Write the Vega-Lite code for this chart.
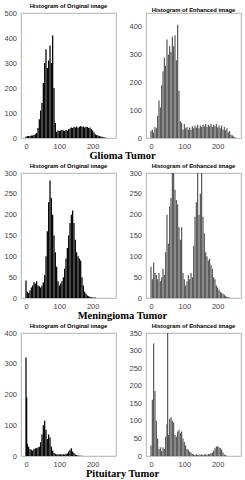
{
  "$schema": "https://vega.github.io/schema/vega-lite/v6.json",
  "background": "white",
  "padding": {"left": 3, "top": 2, "right": 0, "bottom": 0},
  "spacing": 0,
  "datasets": {
    "g1": [{"x":0,"y":5},{"x":4,"y":8},{"x":8,"y":8},{"x":12,"y":8},{"x":16,"y":10},{"x":20,"y":10},{"x":24,"y":12},{"x":28,"y":15},{"x":32,"y":20},{"x":36,"y":40},{"x":40,"y":75},{"x":44,"y":110},{"x":48,"y":140},{"x":52,"y":220},{"x":56,"y":300},{"x":60,"y":355},{"x":64,"y":280},{"x":68,"y":310},{"x":72,"y":370},{"x":76,"y":300},{"x":80,"y":410},{"x":84,"y":200},{"x":88,"y":60},{"x":92,"y":25},{"x":96,"y":30},{"x":100,"y":28},{"x":104,"y":30},{"x":108,"y":32},{"x":112,"y":30},{"x":116,"y":28},{"x":120,"y":32},{"x":124,"y":30},{"x":128,"y":35},{"x":132,"y":38},{"x":136,"y":42},{"x":140,"y":40},{"x":144,"y":45},{"x":148,"y":42},{"x":152,"y":46},{"x":156,"y":40},{"x":160,"y":45},{"x":164,"y":48},{"x":168,"y":44},{"x":172,"y":46},{"x":176,"y":42},{"x":180,"y":45},{"x":184,"y":44},{"x":188,"y":40},{"x":192,"y":42},{"x":196,"y":35},{"x":200,"y":30},{"x":204,"y":22},{"x":208,"y":15},{"x":212,"y":12},{"x":216,"y":10},{"x":220,"y":8},{"x":224,"y":6},{"x":228,"y":5},{"x":232,"y":3},{"x":236,"y":2},{"x":240,"y":1}],
    "g2": [{"x":0,"y":25},{"x":4,"y":30},{"x":8,"y":20},{"x":12,"y":40},{"x":16,"y":35},{"x":20,"y":80},{"x":24,"y":135},{"x":28,"y":110},{"x":32,"y":190},{"x":36,"y":240},{"x":40,"y":290},{"x":44,"y":260},{"x":48,"y":355},{"x":52,"y":300},{"x":56,"y":330},{"x":60,"y":310},{"x":64,"y":365},{"x":68,"y":330},{"x":72,"y":370},{"x":76,"y":280},{"x":80,"y":408},{"x":84,"y":170},{"x":88,"y":60},{"x":92,"y":55},{"x":96,"y":30},{"x":100,"y":50},{"x":104,"y":35},{"x":108,"y":40},{"x":112,"y":30},{"x":116,"y":38},{"x":120,"y":30},{"x":124,"y":42},{"x":128,"y":35},{"x":132,"y":45},{"x":136,"y":38},{"x":140,"y":48},{"x":144,"y":35},{"x":148,"y":45},{"x":152,"y":40},{"x":156,"y":48},{"x":160,"y":42},{"x":164,"y":50},{"x":168,"y":40},{"x":172,"y":48},{"x":176,"y":42},{"x":180,"y":50},{"x":184,"y":40},{"x":188,"y":48},{"x":192,"y":42},{"x":196,"y":50},{"x":200,"y":38},{"x":204,"y":45},{"x":208,"y":35},{"x":212,"y":45},{"x":216,"y":30},{"x":220,"y":40},{"x":224,"y":28},{"x":228,"y":35},{"x":232,"y":20},{"x":236,"y":25},{"x":240,"y":12},{"x":244,"y":10},{"x":248,"y":5},{"x":252,"y":3}],
    "m1": [{"x":0,"y":42},{"x":4,"y":15},{"x":8,"y":12},{"x":12,"y":18},{"x":16,"y":25},{"x":20,"y":30},{"x":24,"y":38},{"x":28,"y":35},{"x":32,"y":40},{"x":36,"y":30},{"x":40,"y":28},{"x":44,"y":25},{"x":48,"y":30},{"x":52,"y":38},{"x":56,"y":55},{"x":60,"y":100},{"x":64,"y":160},{"x":68,"y":230},{"x":72,"y":282},{"x":76,"y":240},{"x":80,"y":200},{"x":84,"y":150},{"x":88,"y":110},{"x":92,"y":75},{"x":96,"y":40},{"x":100,"y":30},{"x":104,"y":35},{"x":108,"y":40},{"x":112,"y":50},{"x":116,"y":70},{"x":120,"y":95},{"x":124,"y":120},{"x":128,"y":150},{"x":132,"y":180},{"x":136,"y":200},{"x":140,"y":210},{"x":144,"y":180},{"x":148,"y":140},{"x":152,"y":110},{"x":156,"y":100},{"x":160,"y":95},{"x":164,"y":90},{"x":168,"y":50},{"x":172,"y":30},{"x":176,"y":15},{"x":180,"y":10},{"x":184,"y":6},{"x":188,"y":4},{"x":192,"y":3},{"x":196,"y":2},{"x":200,"y":1},{"x":204,"y":1},{"x":208,"y":1}],
    "m2": [{"x":0,"y":75},{"x":4,"y":45},{"x":8,"y":85},{"x":12,"y":60},{"x":16,"y":55},{"x":20,"y":45},{"x":24,"y":60},{"x":28,"y":40},{"x":32,"y":50},{"x":36,"y":70},{"x":40,"y":55},{"x":44,"y":110},{"x":48,"y":200},{"x":52,"y":130},{"x":56,"y":220},{"x":60,"y":240},{"x":64,"y":320},{"x":68,"y":320},{"x":72,"y":260},{"x":76,"y":235},{"x":80,"y":225},{"x":84,"y":170},{"x":88,"y":140},{"x":92,"y":170},{"x":96,"y":60},{"x":100,"y":45},{"x":104,"y":30},{"x":108,"y":40},{"x":112,"y":55},{"x":116,"y":45},{"x":120,"y":60},{"x":124,"y":50},{"x":128,"y":125},{"x":132,"y":195},{"x":136,"y":230},{"x":140,"y":320},{"x":144,"y":200},{"x":148,"y":250},{"x":152,"y":320},{"x":156,"y":195},{"x":160,"y":155},{"x":164,"y":110},{"x":168,"y":100},{"x":172,"y":90},{"x":176,"y":95},{"x":180,"y":80},{"x":184,"y":70},{"x":188,"y":50},{"x":192,"y":45},{"x":196,"y":30},{"x":200,"y":25},{"x":204,"y":20},{"x":208,"y":15},{"x":212,"y":12},{"x":216,"y":10},{"x":220,"y":8},{"x":224,"y":5},{"x":228,"y":3},{"x":232,"y":2},{"x":236,"y":1}],
    "p1": [{"x":0,"y":320},{"x":2,"y":190},{"x":4,"y":40},{"x":8,"y":30},{"x":12,"y":22},{"x":16,"y":20},{"x":20,"y":18},{"x":24,"y":22},{"x":28,"y":25},{"x":32,"y":25},{"x":36,"y":28},{"x":40,"y":30},{"x":44,"y":45},{"x":48,"y":70},{"x":52,"y":100},{"x":56,"y":115},{"x":60,"y":85},{"x":64,"y":55},{"x":68,"y":70},{"x":72,"y":60},{"x":76,"y":30},{"x":80,"y":18},{"x":84,"y":10},{"x":88,"y":7},{"x":92,"y":5},{"x":96,"y":6},{"x":100,"y":5},{"x":104,"y":6},{"x":108,"y":5},{"x":112,"y":6},{"x":116,"y":5},{"x":120,"y":7},{"x":124,"y":8},{"x":128,"y":15},{"x":132,"y":20},{"x":136,"y":25},{"x":140,"y":15},{"x":144,"y":10},{"x":148,"y":5},{"x":152,"y":3},{"x":156,"y":2},{"x":160,"y":1},{"x":164,"y":1},{"x":168,"y":1}],
    "p2": [{"x":0,"y":30},{"x":4,"y":160},{"x":8,"y":320},{"x":12,"y":185},{"x":16,"y":100},{"x":20,"y":50},{"x":24,"y":20},{"x":28,"y":25},{"x":32,"y":15},{"x":36,"y":25},{"x":40,"y":20},{"x":44,"y":55},{"x":48,"y":90},{"x":50,"y":360},{"x":52,"y":60},{"x":56,"y":105},{"x":60,"y":110},{"x":64,"y":100},{"x":68,"y":95},{"x":72,"y":60},{"x":76,"y":55},{"x":80,"y":70},{"x":84,"y":75},{"x":88,"y":65},{"x":92,"y":70},{"x":96,"y":50},{"x":100,"y":40},{"x":104,"y":30},{"x":108,"y":20},{"x":112,"y":18},{"x":116,"y":12},{"x":120,"y":10},{"x":124,"y":6},{"x":128,"y":4},{"x":132,"y":3},{"x":136,"y":5},{"x":140,"y":3},{"x":144,"y":4},{"x":148,"y":3},{"x":152,"y":5},{"x":156,"y":3},{"x":160,"y":4},{"x":164,"y":5},{"x":168,"y":3},{"x":172,"y":6},{"x":176,"y":5},{"x":180,"y":8},{"x":184,"y":10},{"x":188,"y":15},{"x":192,"y":22},{"x":196,"y":27},{"x":200,"y":28},{"x":204,"y":25},{"x":208,"y":22},{"x":212,"y":18},{"x":216,"y":10},{"x":220,"y":4},{"x":224,"y":2},{"x":228,"y":1}]
  },
  "vconcat": [
    {
      "title": {"text": "Glioma Tumor", "orient": "bottom", "anchor": "middle", "font": "Liberation Serif", "fontSize": 10.5, "fontWeight": "bold", "color": "#000", "offset": 1},
      "spacing": 11,
      "hconcat": [
        {"width": 95, "height": 125, "data": {"name": "g1"},
         "title": {"text": "Histogram of Original image", "font": "Liberation Sans", "fontSize": 5.8, "fontWeight": "bold", "color": "#000", "offset": 0.5},
         "mark": {"type": "bar", "orient": "vertical", "size": 1.25, "color": "#000", "clip": true},
         "encoding": {
           "x": {"field": "x", "type": "quantitative", "title": null, "scale": {"domain": [0, 255], "nice": false}, "axis": {"values": [0, 100, 200]}},
           "y": {"field": "y", "type": "quantitative", "title": null, "stack": null, "scale": {"domain": [0, 500], "nice": false}, "axis": {"values": [0, 100, 200, 300, 400, 500]}}}},
        {"width": 95, "height": 125, "data": {"name": "g2"},
         "title": {"text": "Histogram of Enhanced image", "font": "Liberation Sans", "fontSize": 5.8, "fontWeight": "bold", "color": "#000", "offset": 0.5},
         "mark": {"type": "bar", "orient": "vertical", "size": 1.1, "color": "#4a4a4a", "clip": true},
         "encoding": {
           "x": {"field": "x", "type": "quantitative", "title": null, "scale": {"domain": [0, 255], "nice": false}, "axis": {"values": [0, 100, 200]}},
           "y": {"field": "y", "type": "quantitative", "title": null, "stack": null, "scale": {"domain": [0, 450], "nice": false}, "axis": {"values": [0, 100, 200, 300, 400]}}}}
      ]
    },
    {
      "title": {"text": "Meningioma Tumor", "orient": "bottom", "anchor": "middle", "font": "Liberation Serif", "fontSize": 10.5, "fontWeight": "bold", "color": "#000", "offset": 1},
      "spacing": 11,
      "hconcat": [
        {"width": 95, "height": 125, "data": {"name": "m1"},
         "title": {"text": "Histogram of Original image", "font": "Liberation Sans", "fontSize": 5.8, "fontWeight": "bold", "color": "#000", "offset": 0.5},
         "mark": {"type": "bar", "orient": "vertical", "size": 1.25, "color": "#000", "clip": true},
         "encoding": {
           "x": {"field": "x", "type": "quantitative", "title": null, "scale": {"domain": [0, 255], "nice": false}, "axis": {"values": [0, 100, 200]}},
           "y": {"field": "y", "type": "quantitative", "title": null, "stack": null, "scale": {"domain": [0, 300], "nice": false}, "axis": {"values": [0, 50, 100, 150, 200, 250, 300]}}}},
        {"width": 95, "height": 125, "data": {"name": "m2"},
         "title": {"text": "Histogram of Enhanced image", "font": "Liberation Sans", "fontSize": 5.8, "fontWeight": "bold", "color": "#000", "offset": 0.5},
         "mark": {"type": "bar", "orient": "vertical", "size": 1.1, "color": "#4a4a4a", "clip": true},
         "encoding": {
           "x": {"field": "x", "type": "quantitative", "title": null, "scale": {"domain": [0, 255], "nice": false}, "axis": {"values": [0, 100, 200]}},
           "y": {"field": "y", "type": "quantitative", "title": null, "stack": null, "scale": {"domain": [0, 300], "nice": false}, "axis": {"values": [0, 50, 100, 150, 200, 250, 300]}}}}
      ]
    },
    {
      "title": {"text": "Pituitary Tumor", "orient": "bottom", "anchor": "middle", "font": "Liberation Serif", "fontSize": 10.5, "fontWeight": "bold", "color": "#000", "offset": 1},
      "spacing": 11,
      "hconcat": [
        {"width": 95, "height": 123, "data": {"name": "p1"},
         "title": {"text": "Histogram of Original image", "font": "Liberation Sans", "fontSize": 5.8, "fontWeight": "bold", "color": "#000", "offset": 0.5},
         "mark": {"type": "bar", "orient": "vertical", "size": 1.25, "color": "#000", "clip": true},
         "encoding": {
           "x": {"field": "x", "type": "quantitative", "title": null, "scale": {"domain": [0, 255], "nice": false}, "axis": {"values": [0, 100, 200]}},
           "y": {"field": "y", "type": "quantitative", "title": null, "stack": null, "scale": {"domain": [0, 400], "nice": false}, "axis": {"values": [0, 100, 200, 300, 400]}}}},
        {"width": 95, "height": 123, "data": {"name": "p2"},
         "title": {"text": "Histogram of Enhanced image", "font": "Liberation Sans", "fontSize": 5.8, "fontWeight": "bold", "color": "#000", "offset": 0.5},
         "mark": {"type": "bar", "orient": "vertical", "size": 1.1, "color": "#4a4a4a", "clip": true},
         "encoding": {
           "x": {"field": "x", "type": "quantitative", "title": null, "scale": {"domain": [0, 255], "nice": false}, "axis": {"values": [0, 100, 200]}},
           "y": {"field": "y", "type": "quantitative", "title": null, "stack": null, "scale": {"domain": [0, 350], "nice": false}, "axis": {"values": [0, 50, 100, 150, 200, 250, 300, 350]}}}}
      ]
    }
  ],
  "config": {
    "view": {"stroke": "#a0a0a0", "strokeWidth": 0.8},
    "axis": {"ticks": false, "domain": false, "grid": false, "labelFont": "Liberation Sans", "labelFontSize": 7.5, "labelColor": "#444", "labelFlush": false},
    "axisX": {"labelPadding": 4},
    "axisY": {"labelPadding": 4.5}
  }
}
